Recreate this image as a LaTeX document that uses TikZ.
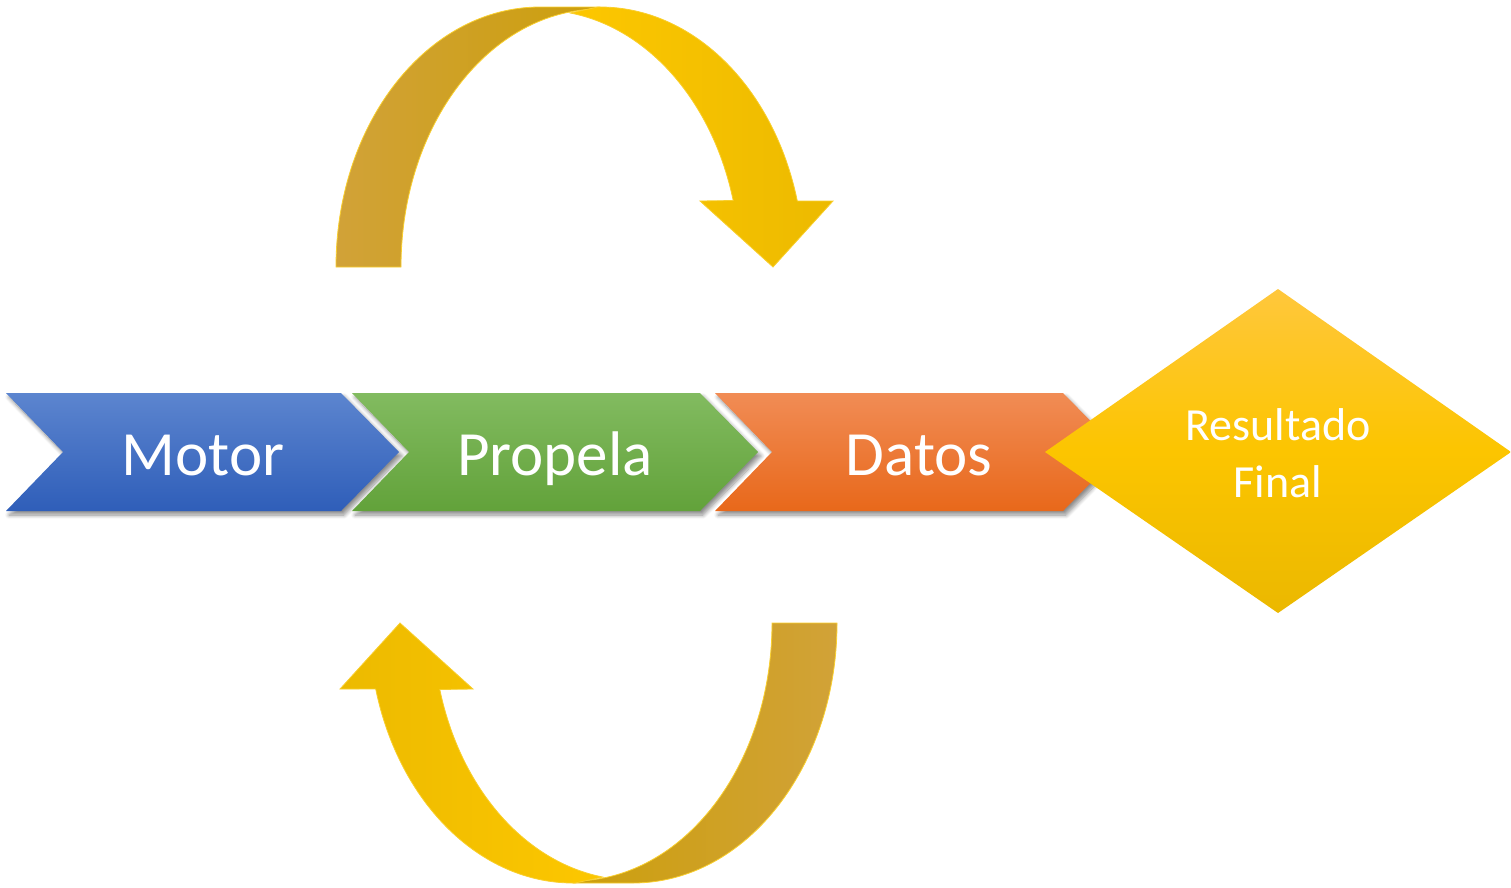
\documentclass[tikz,border=0pt]{standalone}
\usepackage{fontspec}
\setmainfont{Carlito}
\usetikzlibrary{shadows.blur}

\definecolor{motorTop}{HTML}{5C85CF}
\definecolor{motorBot}{HTML}{2F5EB9}
\definecolor{propTop}{HTML}{82BB60}
\definecolor{propBot}{HTML}{62A23A}
\definecolor{datTop}{HTML}{F18C55}
\definecolor{datBot}{HTML}{E8681A}
\definecolor{resTop}{HTML}{FFC73C}
\definecolor{resMid}{HTML}{FCC500}
\definecolor{resBot}{HTML}{EBB800}
\definecolor{backL}{HTML}{D1A238}
\definecolor{backR}{HTML}{CC9F0C}
\definecolor{frontL}{HTML}{FDC700}
\definecolor{frontR}{HTML}{ECBA00}
\definecolor{bandEdge}{HTML}{F9CF2E}

% back (twisted) half of the curved arrow: two quarter ellipses
\newcommand\backBand{(336,267) arc[start angle=180,end angle=270,x radius=204,y radius=260]
  -- (600,7) -- (600,9) arc[start angle=270,end angle=180,x radius=199,y radius=258] -- cycle}
% front half with the arrow head
\newcommand\frontBand{(570,13) -- (598,7) -- (600,7)
  arc[start angle=270,end angle=345.3,x radius=204,y radius=260]
  -- (833,201) -- (773,267) -- (700,201) -- (733.2,200.5)
  arc[start angle=345,end angle=278.6,x radius=200,y radius=257] -- cycle}

\begin{document}
\begin{tikzpicture}[x=1pt,y=-1pt,
  chev/.style={blur shadow={shadow xshift=3pt,shadow yshift=-4pt,
      shadow blur radius=4pt,shadow blur steps=8,shadow opacity=45}},
  lbl/.style={text=white,font=\fontsize{63}{70}\selectfont,anchor=base,inner sep=0pt},
  band/.style={draw=bandEdge,line width=0.8pt}]
\useasboundingbox (0,0) rectangle (1511,887);

% curved arrow above the chain
\path[band,left color=backL,right color=backR] \backBand;
\path[band,left color=frontL,right color=frontR] \frontBand;

% the same arrow turned half round, below the chain
\begin{scope}[rotate around={180:(586.5,445)}]
  \path[band,left color=backR,right color=backL] \backBand;
  \path[band,left color=frontR,right color=frontL] \frontBand;
\end{scope}

% chevrons
\path[chev,top color=motorTop,bottom color=motorBot]
  (6,393) -- (341,393) -- (399,452) -- (341,511) -- (6,511) -- (63,452) -- cycle;
\path[chev,top color=propTop,bottom color=propBot]
  (352,393) -- (700,393) -- (758,452) -- (700,511) -- (352,511) -- (409,452) -- cycle;
\path[chev,top color=datTop,bottom color=datBot]
  (715,393) -- (1063,393) -- (1121,452) -- (1063,511) -- (715,511) -- (772,452) -- cycle;

\node[lbl] (motor) at (203,475) {Motor};
\node[lbl] (propela) at (555,475) {Propela};
\node[lbl] (datos) at (919,475) {Datos};

% decision diamond
\coordinate (dT) at (1278,289);
\coordinate (dL) at (1045,452);
\coordinate (dR) at (1511,452);
\coordinate (dB) at (1278,613);
\path[top color=resTop,bottom color=resBot,middle color=resMid]
  (dT) -- (dR) -- (dB) -- (dL) -- cycle;
\node[text=white,align=center,anchor=base,inner sep=0pt,
  font=\fontsize{46}{57}\selectfont] (result) at (1278,497) {Resultado\\Final};
\end{tikzpicture}
\end{document}
